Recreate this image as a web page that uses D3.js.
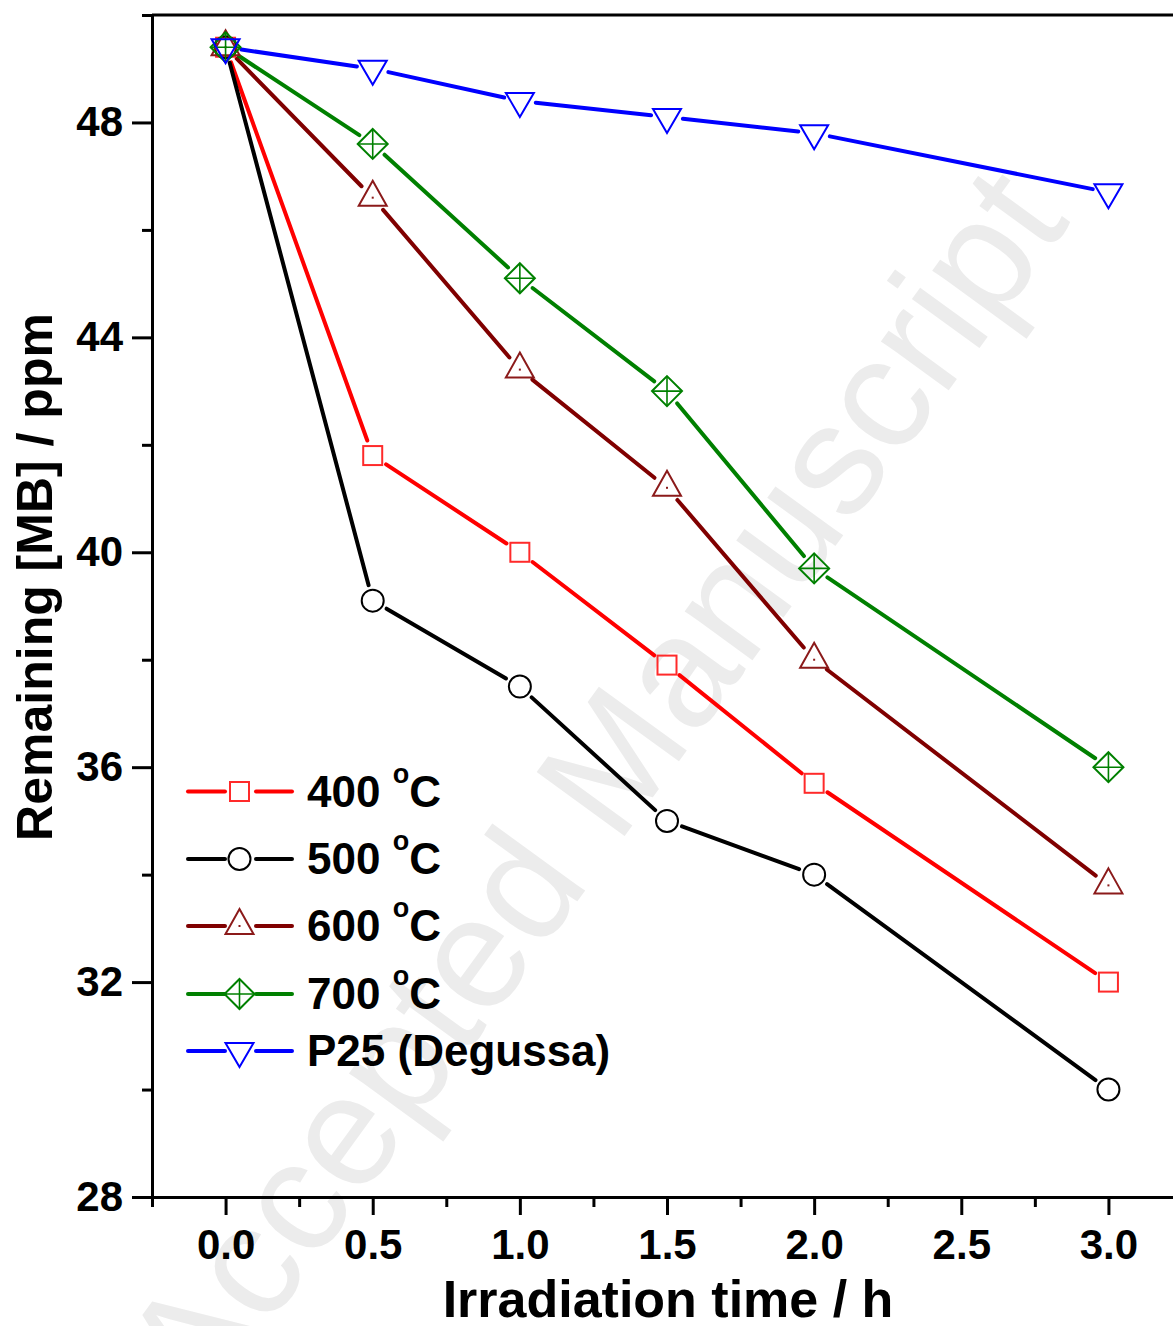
<!DOCTYPE html>
<html>
<head>
<meta charset="utf-8">
<script src="https://cdn.jsdelivr.net/npm/d3@7"></script>
<style>
  body { margin: 0; background: #fff; }
  svg { display: block; }
</style>
</head>
<body>
<div id="chart"></div>
<script>
// irradiation times (h)
const times = [0, 0.5, 1.0, 1.5, 2.0, 3.0];

// remaining [MB] / ppm for each catalyst
const mb400 = [49.4, 41.8, 40.0, 37.9, 35.7, 32.0];
const mb500 = [49.4, 39.1, 37.5, 35.0, 34.0, 30.0];
const mb600 = [49.4, 46.6, 43.4, 41.2, 38.0, 33.8];
const mb700 = [49.4, 47.6, 45.1, 43.0, 39.7, 36.0];
const mbP25 = [49.4, 49.0, 48.4, 48.1, 47.8, 46.7];

const seriesNames = ["400", "500", "600", "700", "P25 (Degussa)"];
const xTickValues = [0, 0.5, 1.0, 1.5, 2.0, 2.5, 3.0];
const yTickValues = [28, 32, 36, 40, 44, 48];

const width = 1173;
const height = 1326;

const series = [
    { name: seriesNames[0], values: mb400, color: "#ff0000", marker: "square", mcolor: "#ff2a2a" },
    { name: seriesNames[1], values: mb500, color: "#000000", marker: "circle", mcolor: "#000000" },
    { name: seriesNames[2], values: mb600, color: "#800000", marker: "triangle", mcolor: "#8b1a1a" },
    { name: seriesNames[3], values: mb700, color: "#008000", marker: "diamond", mcolor: "#008000" },
    { name: seriesNames[4], values: mbP25, color: "#0000ff", marker: "down", mcolor: "#0000ff" }
];

const svg = d3.select("#chart")
    .append("svg")
    .attr("width", width)
    .attr("height", height)
    .style("background-color", "#fff");

const x = d3.scaleLinear().domain([-0.25, 3.25]).range([152, 1182]);
const y = d3.scaleLinear().domain([28, 50]).range([1197, 15]);

// faint watermark behind everything
svg.append("text")
    .attr("transform", "translate(204,1415) rotate(-54)")
    .attr("font-family", "'Liberation Sans', Arial, sans-serif")
    .attr("font-size", 158)
    .attr("fill", "#ececec")
    .text("Accepted Manuscript");

// axes
const fontFamily = "'Liberation Sans', Arial, Helvetica, sans-serif";

function styleAxis(g) {
    g.select(".domain").attr("stroke", "#000").attr("stroke-width", 3);
    g.selectAll(".tick line").attr("stroke", "#000").attr("stroke-width", 3);
    g.selectAll(".tick text")
        .attr("fill", "#000")
        .attr("font-family", fontFamily)
        .attr("font-weight", "bold")
        .attr("font-size", 42);
}

// minor ticks first
svg.append("g")
    .attr("transform", `translate(${x(-0.25)},0)`)
    .call(d3.axisLeft(y).tickValues([30, 34, 38, 42, 46, 50]).tickSize(10).tickSizeOuter(0).tickFormat(""))
    .call(styleAxis);

svg.append("g")
    .attr("transform", `translate(0,${y(28)})`)
    .call(d3.axisBottom(x).tickValues([-0.25, 0.25, 0.75, 1.25, 1.75, 2.25, 2.75, 3.25]).tickSize(10).tickSizeOuter(0).tickFormat(""))
    .call(styleAxis);

svg.append("g")
    .attr("transform", `translate(${x(-0.25)},0)`)
    .call(d3.axisLeft(y).tickValues(yTickValues).tickSize(20).tickPadding(9).tickSizeOuter(0).tickFormat(d3.format("d")))
    .call(styleAxis);

svg.append("g")
    .attr("transform", `translate(0,${y(28)})`)
    .call(d3.axisBottom(x).tickValues(xTickValues).tickSize(18).tickPadding(14).tickSizeOuter(0).tickFormat(d3.format(".1f")))
    .call(styleAxis);

// top frame line
svg.append("line")
    .attr("x1", x(-0.25)).attr("x2", x(3.25))
    .attr("y1", y(50)).attr("y2", y(50))
    .attr("stroke", "#000").attr("stroke-width", 3);

// axis titles
svg.append("text")
    .attr("x", 668)
    .attr("y", 1317)
    .attr("text-anchor", "middle")
    .attr("font-family", fontFamily)
    .attr("font-weight", "bold")
    .attr("font-size", 52)
    .text("Irradiation time / h");

svg.append("text")
    .attr("transform", "translate(52,577) rotate(-90)")
    .attr("text-anchor", "middle")
    .attr("font-family", fontFamily)
    .attr("font-weight", "bold")
    .attr("font-size", 50)
    .text("Remaining [MB] / ppm");

// marker drawing
function drawMarker(g, type, color) {
    const sw = 2;
    if (type === "square") {
        g.append("rect").attr("x", -9.5).attr("y", -9.5).attr("width", 19).attr("height", 19)
            .attr("fill", "none").attr("stroke", color).attr("stroke-width", sw);
    } else if (type === "circle") {
        g.append("circle").attr("r", 11)
            .attr("fill", "none").attr("stroke", color).attr("stroke-width", sw);
    } else if (type === "triangle") {
        g.append("path").attr("d", "M0,-17L14,8L-14,8Z")
            .attr("fill", "none").attr("stroke", color).attr("stroke-width", sw);
        g.append("rect").attr("x", -1).attr("y", -1).attr("width", 2).attr("height", 2).attr("fill", color);
    } else if (type === "diamond") {
        g.append("path").attr("d", "M0,-15L15,0L0,15L-15,0Z")
            .attr("fill", "none").attr("stroke", color).attr("stroke-width", sw);
        g.append("path").attr("d", "M0,-15V15M-15,0H15")
            .attr("fill", "none").attr("stroke", color).attr("stroke-width", 1.6);
    } else if (type === "down") {
        g.append("path").attr("d", "M-14,-8L14,-8L0,16Z")
            .attr("fill", "none").attr("stroke", color).attr("stroke-width", sw);
    }
}

// lines with gaps around the markers
const gap = 16;
const plot = svg.append("g");

series.forEach((s) => {
    const pts = s.values.map((v, i) => [x(times[i]), y(v)]);
    const segs = d3.pairs(pts).map(([a, b]) => {
        const dx = b[0] - a[0], dy = b[1] - a[1];
        const len = Math.hypot(dx, dy);
        const ux = dx / len, uy = dy / len;
        return [a[0] + ux * gap, a[1] + uy * gap, b[0] - ux * gap, b[1] - uy * gap];
    });
    plot.append("g")
        .selectAll("line")
        .data(segs)
        .join("line")
        .attr("x1", (d) => d[0]).attr("y1", (d) => d[1])
        .attr("x2", (d) => d[2]).attr("y2", (d) => d[3])
        .attr("stroke", s.color)
        .attr("stroke-width", 4)
        .attr("stroke-linecap", "round");
});

series.forEach((s) => {
    s.values.forEach((v, i) => {
        const g = plot.append("g").attr("transform", `translate(${x(times[i])},${y(v)})`);
        drawMarker(g, s.marker, s.mcolor);
    });
});

// legend
const legendRows = [791.5, 859, 926, 994, 1051];
const legend = svg.append("g");

series.forEach((s, i) => {
    const row = legend.append("g").attr("transform", `translate(0,${legendRows[i]})`);
    row.append("line").attr("x1", 188).attr("x2", 225).attr("y1", 0).attr("y2", 0)
        .attr("stroke", s.color).attr("stroke-width", 4).attr("stroke-linecap", "round");
    row.append("line").attr("x1", 256).attr("x2", 292).attr("y1", 0).attr("y2", 0)
        .attr("stroke", s.color).attr("stroke-width", 4).attr("stroke-linecap", "round");
    drawMarker(row.append("g").attr("transform", "translate(239.5,0)"), s.marker, s.mcolor);

    const t = row.append("text")
        .attr("x", 307)
        .attr("y", 15)
        .attr("font-family", fontFamily)
        .attr("font-weight", "bold")
        .attr("font-size", 44);
    if (i < 4) {
        t.append("tspan").text(s.name + " ");
        t.append("tspan").attr("font-size", 27).attr("dy", -24).text("o");
        t.append("tspan").attr("dy", 24).text("C");
    } else {
        t.text(s.name);
    }
});
</script>
</body>
</html>
